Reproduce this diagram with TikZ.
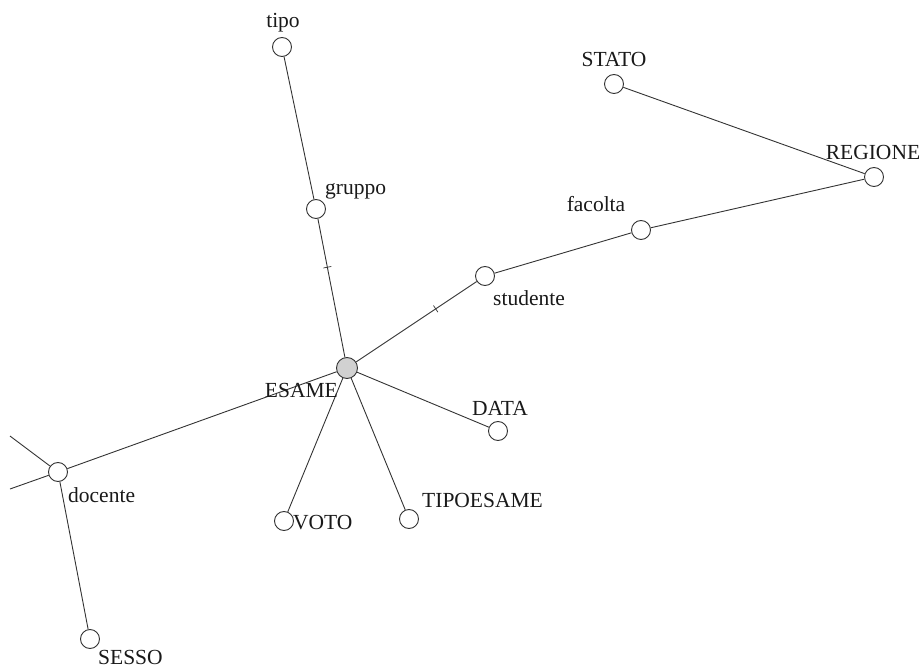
\documentclass[tikz,border=0pt]{standalone}
\usepackage{fontspec}
\setmainfont{Liberation Serif}
\begin{document}
\begin{tikzpicture}[x=1pt,y=-1pt,
  attr/.style={circle,draw=black!80,fill=white,line width=0.9pt,minimum size=19pt,inner sep=0pt},
  fact/.style={attr,fill=black!18,minimum size=21pt},
  lbl/.style={inner sep=0pt,font=\fontsize{21.5}{23}\selectfont,text=black!90},
  edge/.style={draw=black!80,line width=0.9pt},
  tickmark/.style={sloped,draw=black!80,line width=0.7pt,inner sep=0pt,minimum width=0pt,minimum height=8pt}]
\useasboundingbox (0,0) rectangle (924,668);
% free ends
\coordinate (L1) at (10,436);
\coordinate (L2) at (10,489);
% nodes
\node[attr] (tipo) at (282,47) {};
\node[attr] (gruppo) at (316,209) {};
\node[fact] (esame) at (347,368) {};
\node[attr] (studente) at (485,276) {};
\node[attr] (facolta) at (641,230) {};
\node[attr] (regione) at (874,177) {};
\node[attr] (stato) at (614,84) {};
\node[attr] (data) at (498,431) {};
\node[attr] (tipoesame) at (409,519) {};
\node[attr] (voto) at (284,521) {};
\node[attr] (docente) at (58,472) {};
\node[attr] (sesso) at (90,639) {};
% edges
\path[edge] (tipo) -- (gruppo);
\path[edge] (gruppo) -- node[tickmark,pos=0.35]{} (esame);
\path[edge] (esame) -- node[tickmark,pos=0.66]{} (studente);
\path[edge] (studente) -- (facolta);
\path[edge] (facolta) -- (regione);
\path[edge] (regione) -- (stato);
\path[edge] (esame) -- (data);
\path[edge] (esame) -- (tipoesame);
\path[edge] (esame) -- (voto);
\path[edge] (esame) -- (docente);
\path[edge] (docente) -- (sesso);
\path[edge] (docente) -- (L1);
\path[edge] (docente) -- (L2);
% labels
\node[lbl,anchor=base] (ltipo) at (283,28) {tipo};
\node[lbl,anchor=base west] (lgruppo) at (325,195) {gruppo};
\node[lbl,anchor=base east] (lesame) at (338,397) {ESAME};
\node[lbl,anchor=base west] (lstudente) at (493,306) {studente};
\node[lbl,anchor=base] (lfacolta) at (596,212) {facolta};
\node[lbl,anchor=base] (lregione) at (873,160) {REGIONE};
\node[lbl,anchor=base] (lstato) at (614,67) {STATO};
\node[lbl,anchor=base] (ldata) at (500,415) {DATA};
\node[lbl,anchor=base west] (ltipoesame) at (422,507) {TIPOESAME};
\node[lbl,anchor=base west] (lvoto) at (293,529) {VOTO};
\node[lbl,anchor=base west] (ldocente) at (68,502) {docente};
\node[lbl,anchor=base west] (lsesso) at (98,664) {SESSO};
\end{tikzpicture}
\end{document}
